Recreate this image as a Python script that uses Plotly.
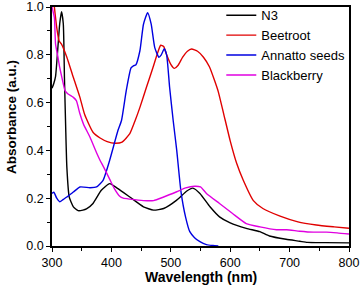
import plotly.graph_objects as go

# ---- data ----
n3_nm = [300, 303, 306, 309, 313, 316, 319, 321, 323, 325, 329, 336, 344, 352, 358, 369, 383, 397, 411, 431, 454, 471, 488, 510, 527, 537, 549, 566, 582, 600, 627, 650, 666, 694, 717, 730, 760, 800]
n3_abs = [0.66, 0.68, 0.71, 0.80, 0.93, 0.98, 0.93, 0.70, 0.50, 0.33, 0.205, 0.164, 0.148, 0.15, 0.155, 0.178, 0.233, 0.261, 0.24, 0.205, 0.164, 0.15, 0.157, 0.192, 0.23, 0.242, 0.22, 0.164, 0.122, 0.097, 0.074, 0.06, 0.042, 0.028, 0.02, 0.015, 0.014, 0.013]

beet_nm = [300, 304, 308, 312, 316, 325, 336, 347, 355, 369, 381, 393, 406, 418, 431, 440, 448, 459, 470, 478, 483, 488, 493, 500, 506, 512, 520, 528, 535, 545, 555, 565, 574, 580, 589, 600, 611, 622, 639, 655, 684, 714, 745, 775, 800]
beet_abs = [1.1, 1.0, 0.914, 0.858, 0.845, 0.79, 0.705, 0.622, 0.55, 0.476, 0.452, 0.437, 0.43, 0.435, 0.47, 0.525, 0.58, 0.664, 0.747, 0.81, 0.84, 0.835, 0.80, 0.76, 0.743, 0.755, 0.79, 0.815, 0.824, 0.815, 0.79, 0.75, 0.69, 0.645, 0.553, 0.44, 0.345, 0.275, 0.19, 0.157, 0.125, 0.101, 0.088, 0.08, 0.074]

ann_nm = [300, 303, 308, 313, 319, 325, 336, 347, 364, 375, 386, 397, 411, 417, 425, 433, 437, 441, 448, 454, 461, 467, 473, 480, 484, 489, 493, 498, 504, 510, 517, 525, 532, 540, 549, 560, 571, 580]
ann_abs = [0.22, 0.225, 0.2, 0.185, 0.195, 0.205, 0.226, 0.247, 0.244, 0.247, 0.275, 0.358, 0.483, 0.525, 0.65, 0.745, 0.754, 0.757, 0.817, 0.928, 0.976, 0.928, 0.83, 0.79, 0.80, 0.826, 0.80, 0.664, 0.525, 0.40, 0.23, 0.12, 0.06, 0.035, 0.018, 0.006, 0.002, 0.0]

bb_nm = [300, 304, 306, 310, 313, 318, 322, 327, 336, 341, 347, 353, 364, 375, 381, 387, 397, 405, 414, 420, 431, 454, 471, 488, 510, 525, 540, 550, 560, 582, 604, 627, 650, 678, 695, 717, 740, 762, 780, 800]
bb_abs = [1.0, 0.955, 0.845, 0.79, 0.747, 0.69, 0.65, 0.636, 0.622, 0.608, 0.553, 0.51, 0.455, 0.39, 0.358, 0.33, 0.28, 0.24, 0.208, 0.2, 0.196, 0.19, 0.19, 0.205, 0.227, 0.243, 0.25, 0.247, 0.22, 0.178, 0.136, 0.094, 0.08, 0.068, 0.068, 0.062, 0.058, 0.058, 0.055, 0.05]

series_names = ["N3", "Beetroot", "Annatto seeds", "Blackberry"]
series_colors = ["#000000", "#e00000", "#0000e0", "#e000e0"]

x_ticks = [300, 400, 500, 600, 700, 800]
y_ticks = [0.0, 0.2, 0.4, 0.6, 0.8, 1.0]
y_tick_labels = ["0.0", "0.2", "0.4", "0.6", "0.8", "1.0"]

FONT = "Arial, Liberation Sans, sans-serif"

fig = go.Figure()
for name, xs, ys, col in zip(series_names,
                             [n3_nm, beet_nm, ann_nm, bb_nm],
                             [n3_abs, beet_abs, ann_abs, bb_abs],
                             series_colors):
    fig.add_trace(go.Scatter(x=xs, y=ys, name=name, mode="lines",
                             line=dict(color=col, width=1.4, shape="spline", smoothing=0.5)))

fig.update_layout(
    width=364, height=289,
    margin=dict(l=52, r=15, t=7, b=43, autoexpand=False),
    paper_bgcolor="white", plot_bgcolor="white",
    font=dict(family=FONT, color="black", size=12),
    showlegend=True,
    legend=dict(x=0.57, y=1.028, xanchor="left", yanchor="top",
                bgcolor="rgba(0,0,0,0)", borderwidth=0,
                font=dict(size=13, family=FONT), tracegroupgap=0),
    xaxis=dict(range=[300, 800], tickmode="array", tickvals=x_ticks,
               ticks="outside", ticklen=4, tickwidth=1, tickcolor="black",
               minor=dict(dtick=50, ticks="outside", ticklen=3, tickcolor="black", showgrid=False),
               showline=True, linecolor="black", linewidth=1.5, mirror=True,
               showgrid=False, zeroline=False, automargin=False,
               tickfont=dict(size=12.5)),
    yaxis=dict(range=[0, 1.0], tickmode="array", tickvals=y_ticks, ticktext=y_tick_labels,
               ticks="outside", ticklen=4, tickwidth=1, tickcolor="black",
               minor=dict(dtick=0.1, ticks="outside", ticklen=3, tickcolor="black", showgrid=False),
               showline=True, linecolor="black", linewidth=1.5, mirror=True,
               showgrid=False, zeroline=False, automargin=False,
               tickfont=dict(size=12.5)),
    annotations=[
        dict(text="<b>Wavelength (nm)</b>", xref="paper", yref="paper",
             x=0.5, y=0, xanchor="center", yanchor="middle", yshift=-31,
             showarrow=False, font=dict(size=14, family=FONT)),
        dict(text="<b>Absorbance (a.u.)</b>", xref="paper", yref="paper",
             x=0, y=0.54, xanchor="center", yanchor="middle", xshift=-40, textangle=-90,
             showarrow=False, font=dict(size=13.5, family=FONT)),
    ],
)

fig.write_html("out.html",
               config={"displayModeBar": False},
               post_script="document.body.style.margin='0';document.body.style.overflow='hidden';")
